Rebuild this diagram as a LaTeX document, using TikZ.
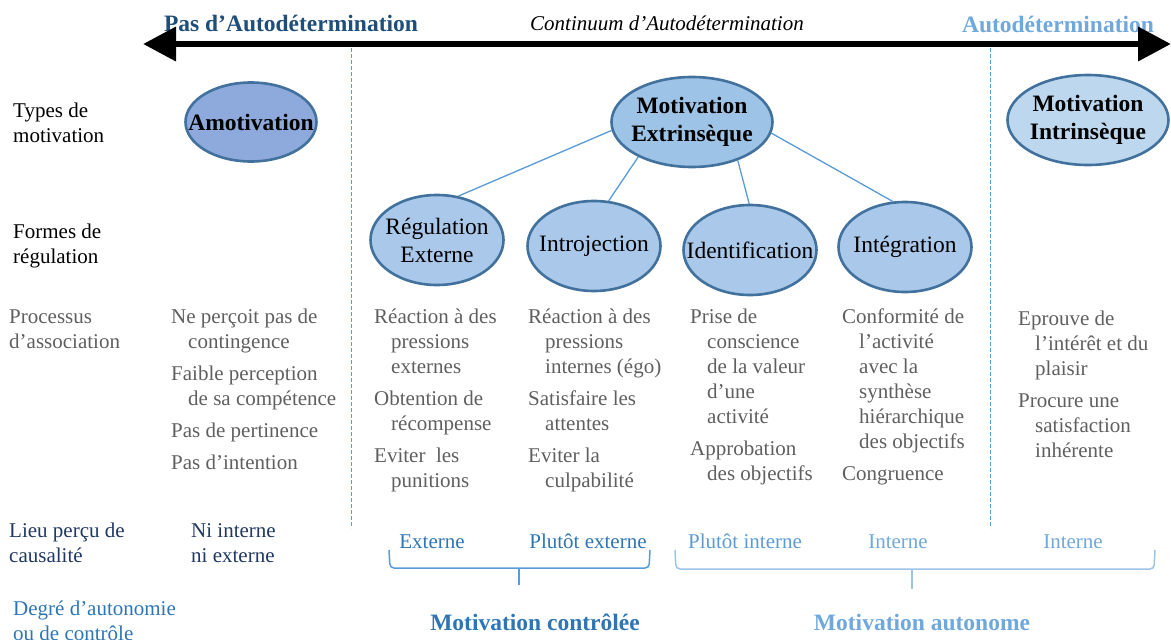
\documentclass[tikz,border=0pt]{standalone}
\usepackage{fontspec}
\setmainfont{Liberation Serif}
\usetikzlibrary{arrows.meta, shapes.geometric}

\definecolor{titleblue}{HTML}{1F4E79}
\definecolor{navyblue}{HTML}{203864}
\definecolor{midblue}{HTML}{2E75B6}
\definecolor{skyblue}{HTML}{5B9BD5}
\definecolor{autoblue}{HTML}{6FA8DC}
\definecolor{paleblue}{HTML}{9DC3E6}
\definecolor{edgeblue}{HTML}{41719C}
\definecolor{procgrey}{HTML}{5F5F5F}
\definecolor{amotfill}{HTML}{8EA9DB}
\definecolor{extfill}{HTML}{9DC3E6}
\definecolor{intfill}{HTML}{BDD7EE}
\definecolor{regfill}{HTML}{A9C8EA}

\newcommand{\ctr}[1]{\makebox[0pt]{#1}}
\newcommand{\ind}{\hspace*{17pt}}

\begin{document}
\begin{tikzpicture}[x=1pt, y=-1pt,
    oval/.style={ellipse, draw=edgeblue, line width=2.6pt, inner sep=0pt, align=center},
    motiv/.style={oval, font=\fontsize{23.5}{28}\selectfont\bfseries, minimum width=161pt, minimum height=90pt},
    regul/.style={oval, fill=regfill, font=\fontsize{23.5}{28}\selectfont, minimum width=133pt, minimum height=90pt},
    rowtext/.style={anchor=base west, inner sep=0pt, align=left, font=\fontsize{21}{25}\selectfont},
    proctext/.style={rowtext, text=procgrey},
    causetext/.style={anchor=base, inner sep=0pt, font=\fontsize{21}{25}\selectfont},
    bigtext/.style={anchor=base, inner sep=0pt, font=\fontsize{23.5}{28}\selectfont\bfseries},
    branch/.style={draw=skyblue, line width=1.3pt},
    divider/.style={draw=skyblue, line width=1pt, dash pattern=on 4pt off 2pt},
    bracket/.style={line width=1.5pt, rounded corners=4pt}]
    \useasboundingbox (0,0) rectangle (1171,640);

    \node[bigtext, text=titleblue] (noauto) at (291,31) {Pas d’Autodétermination};
    \node[anchor=base, inner sep=0pt, font=\fontsize{21}{25}\selectfont\itshape] (contin) at (667,30) {Continuum d’Autodétermination};
    \node[bigtext, text=autoblue] (auto) at (1058,32) {Autodétermination};

    \coordinate (lowend) at (143,44);
    \coordinate (highend) at (1171,44);
    \draw[line width=6.7pt, {Triangle[length=33pt, width=33pt]}-{Triangle[length=33pt, width=33pt]}] (lowend) -- (highend);

    \coordinate (divatop) at (351,48);
    \coordinate (divabot) at (351,528);
    \coordinate (divbtop) at (990,48);
    \coordinate (divbbot) at (990,528);
    \draw[divider] (divatop) -- (divabot);
    \draw[divider] (divbtop) -- (divbbot);

    % multi-line texts sit on the baseline of their last line
    \node[rowtext] (types) at (13,142) {Types de\\motivation};
    \node[rowtext] (formes) at (13,263) {Formes de\\régulation};
    \node[proctext] (process) at (9,348) {Processus\\d’association};
    \node[rowtext, text=navyblue] (lieu) at (9,562) {Lieu perçu de\\causalité};
    \node[rowtext, text=midblue] (degre) at (13,640) {Degré d’autonomie\\ou de contrôle};

    \node[motiv, fill=amotfill, minimum width=131pt, minimum height=79pt] (amot) at (251,122) {\ctr{Amotivation}};
    \node[motiv, fill=extfill] (mext) at (692,122) {\ctr{Motivation}\\\ctr{Extrinsèque}};
    \node[motiv, fill=intfill] (mint) at (1088,120) {\ctr{Motivation}\\\ctr{Intrinsèque}};

    \node[regul] (regext) at (437,240) {\ctr{Régulation}\\\ctr{Externe}};
    \node[regul] (introj) at (594,246) {\ctr{Introjection}};
    \node[regul] (ident) at (750,250) {\ctr{Identification}};
    \node[regul] (integr) at (905,247) {\ctr{Intégration}};

    \draw[branch] (mext.186) -- (regext.64);
    \draw[branch] (mext.213) -- (introj.72);
    \draw[branch] (mext.320) -- (ident.91);
    \draw[branch] (mext.352) -- (integr.105);

    \node[proctext] (amotproc) at (171,469) {Ne perçoit pas de\\\ind contingence\\[7pt]Faible perception\\\ind de sa compétence\\[7pt]Pas de pertinence\\[7pt]Pas d’intention};
    \node[proctext] (regproc) at (374,487) {Réaction à des\\\ind pressions\\\ind externes\\[7pt]Obtention de\\\ind récompense\\[7pt]Eviter~ les\\\ind punitions};
    \node[proctext] (introproc) at (528,487) {Réaction à des\\\ind pressions\\\ind internes (égo)\\[7pt]Satisfaire les\\\ind attentes\\[7pt]Eviter la\\\ind culpabilité};
    \node[proctext] (identproc) at (690,480) {Prise de\\\ind conscience\\\ind de la valeur\\\ind d’une\\\ind activité\\[7pt]Approbation\\\ind des objectifs};
    \node[proctext] (integrproc) at (842,480) {Conformité de\\\ind l’activité\\\ind avec la\\\ind synthèse\\\ind hiérarchique\\\ind des objectifs\\[7pt]Congruence};
    \node[proctext] (intrproc) at (1018,457) {Eprouve de\\\ind l’intérêt et du\\\ind plaisir\\[7pt]Procure une\\\ind satisfaction\\\ind inhérente};

    \node[rowtext, text=navyblue] (amotcause) at (191,562) {Ni interne\\ni externe};
    \node[causetext, text=midblue] (extcause) at (432,548) {Externe};
    \node[causetext, text=midblue] (introcause) at (588,548) {Plutôt externe};
    \node[causetext, text=skyblue] (identcause) at (745,548) {Plutôt interne};
    \node[causetext, text=autoblue] (integrcause) at (898,548) {Interne};
    \node[causetext, text=autoblue] (intrcause) at (1073,548) {Interne};

    \draw[bracket, skyblue] (389,550) -- (390,568) -- (649,568) -- (650,550);
    \draw[bracket, skyblue] (519,568) -- (519,585);
    \draw[bracket, paleblue] (675,550) -- (676,569) -- (1154,569) -- (1155,550);
    \draw[bracket, paleblue] (912,569) -- (912,589);

    \node[bigtext, text=midblue] (controlled) at (535,630) {Motivation contrôlée};
    \node[bigtext, text=autoblue] (autonomous) at (922,630) {Motivation autonome};
\end{tikzpicture}
\end{document}
